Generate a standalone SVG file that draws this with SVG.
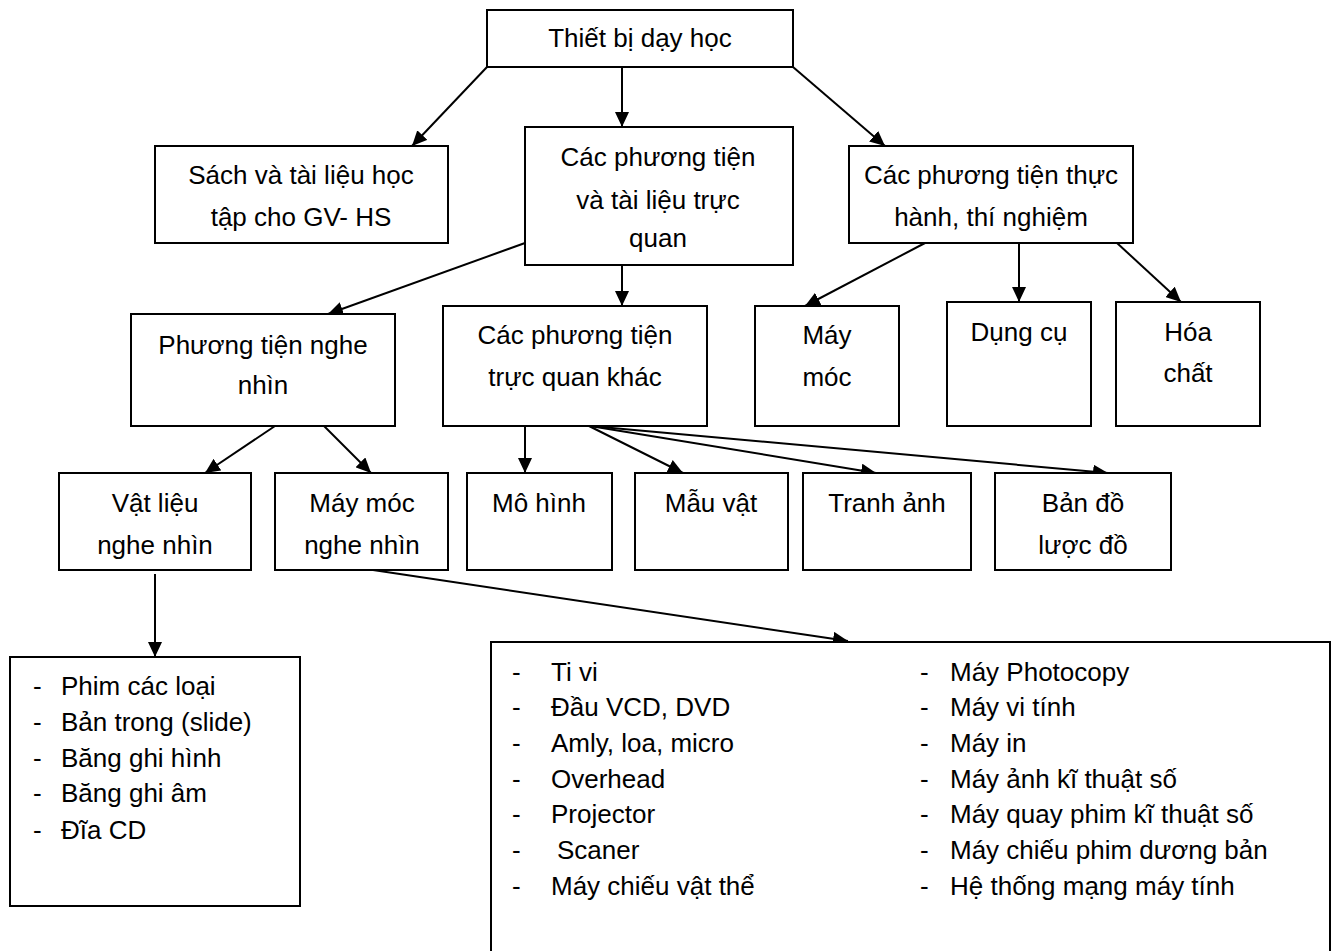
<svg xmlns="http://www.w3.org/2000/svg" width="1335" height="951" viewBox="0 0 1335 951">
<style>
.box{fill:#fff;stroke:#000;stroke-width:2}
.t{font-family:"Liberation Sans",Arial,sans-serif;font-size:26px;fill:#000}
.c{text-anchor:middle}
.ln{stroke:#000;stroke-width:2;fill:none;marker-end:url(#ah)}
</style>
<defs>
<marker id="ah" markerUnits="userSpaceOnUse" markerWidth="16" markerHeight="14" refX="15" refY="7" orient="auto">
<path d="M0,0 L15,7 L0,14 Z" fill="#000"/>
</marker>
</defs>
<rect width="1335" height="951" fill="#fff"/>
<g id="connectors">
<line class="ln" x1="487" y1="67" x2="412" y2="146"/>
<line class="ln" x1="622" y1="67" x2="622" y2="127"/>
<line class="ln" x1="793" y1="67" x2="885" y2="146"/>
<line class="ln" x1="525" y1="243" x2="328" y2="314"/>
<line class="ln" x1="622" y1="265" x2="622" y2="306"/>
<line class="ln" x1="925" y1="243" x2="805" y2="306"/>
<line class="ln" x1="1019" y1="243" x2="1019" y2="302"/>
<line class="ln" x1="1117" y1="243" x2="1181" y2="302"/>
<line class="ln" x1="275" y1="426" x2="205" y2="473"/>
<line class="ln" x1="324" y1="426" x2="371" y2="473"/>
<line class="ln" x1="525" y1="426" x2="525" y2="473"/>
<line class="ln" x1="589" y1="426" x2="683" y2="473"/>
<line class="ln" x1="590" y1="426" x2="876" y2="473"/>
<line class="ln" x1="590" y1="426" x2="1108" y2="473"/>
<line class="ln" x1="155" y1="574" x2="155" y2="657"/>
<line class="ln" x1="373" y1="570" x2="848" y2="641"/>
</g>
<g id="n-root"><rect class="box" x="487" y="10" width="306" height="57"/><text class="t c" x="640" y="47">Thiết bị dạy học</text></g>
<g id="n-sach"><rect class="box" x="155" y="146" width="293" height="97"/><text class="t c" x="301" y="184">Sách và tài liệu học</text><text class="t c" x="301" y="226">tập cho GV- HS</text></g>
<g id="n-tq"><rect class="box" x="525" y="127" width="268" height="138"/><text class="t c" x="658" y="166">Các phương tiện</text><text class="t c" x="658" y="209">và tài liệu trực</text><text class="t c" x="658" y="247">quan</text></g>
<g id="n-th"><rect class="box" x="849" y="146" width="284" height="97"/><text class="t c" x="991" y="184">Các phương tiện thực</text><text class="t c" x="991" y="226">hành, thí nghiệm</text></g>
<g id="n-ptnn"><rect class="box" x="131" y="314" width="264" height="112"/><text class="t c" x="263" y="354">Phương tiện nghe</text><text class="t c" x="263" y="394">nhìn</text></g>
<g id="n-tqk"><rect class="box" x="443" y="306" width="264" height="120"/><text class="t c" x="575" y="344">Các phương tiện</text><text class="t c" x="575" y="386">trực quan khác</text></g>
<g id="n-maymoc"><rect class="box" x="755" y="306" width="144" height="120"/><text class="t c" x="827" y="344">Máy</text><text class="t c" x="827" y="386">móc</text></g>
<g id="n-dungcu"><rect class="box" x="947" y="302" width="144" height="124"/><text class="t c" x="1019" y="341">Dụng cụ</text></g>
<g id="n-hoachat"><rect class="box" x="1116" y="302" width="144" height="124"/><text class="t c" x="1188" y="341">Hóa</text><text class="t c" x="1188" y="382">chất</text></g>
<g id="n-vl"><rect class="box" x="59" y="473" width="192" height="97"/><text class="t c" x="155" y="512">Vật liệu</text><text class="t c" x="155" y="554">nghe nhìn</text></g>
<g id="n-mm"><rect class="box" x="275" y="473" width="173" height="97"/><text class="t c" x="362" y="512">Máy móc</text><text class="t c" x="362" y="554">nghe nhìn</text></g>
<g id="n-mohinh"><rect class="box" x="467" y="473" width="145" height="97"/><text class="t c" x="539" y="512">Mô hình</text></g>
<g id="n-mauvat"><rect class="box" x="635" y="473" width="153" height="97"/><text class="t c" x="711" y="512">Mẫu vật</text></g>
<g id="n-tranh"><rect class="box" x="803" y="473" width="168" height="97"/><text class="t c" x="887" y="512">Tranh ảnh</text></g>
<g id="n-bando"><rect class="box" x="995" y="473" width="176" height="97"/><text class="t c" x="1083" y="512">Bản đồ</text><text class="t c" x="1083" y="554">lược đồ</text></g>
<g id="n-list1"><rect class="box" x="10" y="657" width="290" height="249"/>
<g class="t"><text x="33" y="695">-</text><text x="61" y="695">Phim các loại</text>
<text x="33" y="731">-</text><text x="61" y="731">Bản trong (slide)</text>
<text x="33" y="767">-</text><text x="61" y="767">Băng ghi hình</text>
<text x="33" y="802">-</text><text x="61" y="802">Băng ghi âm</text>
<text x="33" y="839">-</text><text x="61" y="839">Đĩa CD</text></g></g>
<g id="n-list2"><rect class="box" x="491" y="642" width="839" height="330"/>
<g class="t"><text x="512" y="681">-</text><text x="551" y="681">Ti vi</text>
<text x="512" y="716">-</text><text x="551" y="716">Đầu VCD, DVD</text>
<text x="512" y="752">-</text><text x="551" y="752">Amly, loa, micro</text>
<text x="512" y="788">-</text><text x="551" y="788">Overhead</text>
<text x="512" y="823">-</text><text x="551" y="823">Projector</text>
<text x="512" y="859">-</text><text x="557" y="859">Scaner</text>
<text x="512" y="895">-</text><text x="551" y="895">Máy chiếu vật thể</text>
<text x="920" y="681">-</text><text x="950" y="681">Máy Photocopy</text>
<text x="920" y="716">-</text><text x="950" y="716">Máy vi tính</text>
<text x="920" y="752">-</text><text x="950" y="752">Máy in</text>
<text x="920" y="788">-</text><text x="950" y="788">Máy ảnh kĩ thuật số</text>
<text x="920" y="823">-</text><text x="950" y="823">Máy quay phim kĩ thuật số</text>
<text x="920" y="859">-</text><text x="950" y="859">Máy chiếu phim dương bản</text>
<text x="920" y="895">-</text><text x="950" y="895">Hệ thống mạng máy tính</text></g></g>
</svg>
